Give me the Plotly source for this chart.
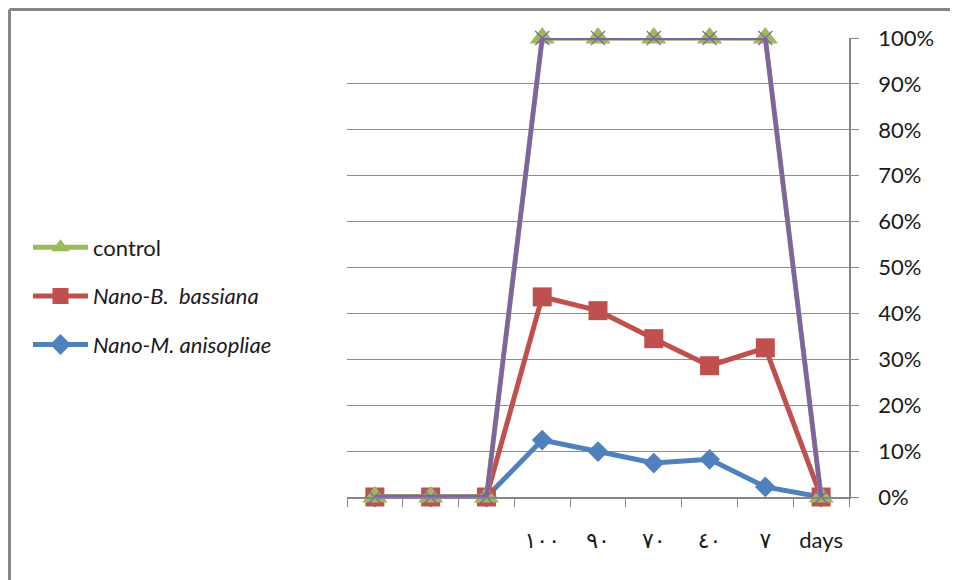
import plotly.graph_objects as go

categories = [" ", "  ", "   ", "١٠٠", "٩٠", "٧٠", "٤٠", "٧", "days"]
control = [0, 0, 0, 100, 100, 100, 100, 100, 0]
series4 = [0, 0, 0, 100, 100, 100, 100, 100, 0]
b_bassiana = [0, 0, 0, 43.6, 40.6, 34.5, 28.6, 32.5, 0]
m_anisopliae = [0, 0, 0, 12.4, 9.9, 7.4, 8.2, 2.2, 0]
y_ticks = [0, 10, 20, 30, 40, 50, 60, 70, 80, 90, 100]
y_labels = [f"{v}%" for v in y_ticks]

FONT = "Lato, 'Open Sans', 'DejaVu Sans', sans-serif"
GREEN = "#9BBB59"
RED = "#C0504D"
BLUE = "#4F81BD"
PURPLE = "#8064A2"

fig = go.Figure()
fig.add_trace(go.Scatter(
    x=categories, y=m_anisopliae, mode="lines+markers", cliponaxis=False,
    name="<i>Nano-M. anisopliae</i>", legendgroup="c", legendrank=3,
    line=dict(color=BLUE, width=5),
    marker=dict(symbol="diamond", size=16, color=BLUE),
))
fig.add_trace(go.Scatter(
    x=categories, y=b_bassiana, mode="lines+markers", cliponaxis=False,
    name="<i>Nano-B.\u00a0 bassiana</i>", legendgroup="b", legendrank=2,
    line=dict(color=RED, width=5),
    marker=dict(symbol="square", size=19, color=RED),
))
fig.add_trace(go.Scatter(
    x=categories, y=control, mode="lines+markers", cliponaxis=False,
    name="control", legendgroup="a", legendrank=1,
    line=dict(color=GREEN, width=5),
    marker=dict(symbol="triangle-up", size=22, color=GREEN),
))
fig.add_trace(go.Scatter(
    x=categories, y=series4, mode="lines+markers", cliponaxis=False,
    name="series4", showlegend=False,
    line=dict(color=PURPLE, width=4.5),
    marker=dict(symbol="x-thin", size=14, line=dict(color=PURPLE, width=1.2)),
))

# page has an 8px body margin; figure coordinates = page coordinates - 8
OFF = 8
W, H = 950, 572
L = 347 - OFF
T = 38 - OFF
R = W - (849 - OFF)
B = H - (497 - OFF)
pw = W - L - R
ph = H - T - B


def px_x(page_x):
    return (page_x - OFF - L) / pw


def px_y(page_y):
    return (H - B - (page_y - OFF)) / ph


fig.update_layout(
    width=W, height=H,
    margin=dict(l=L, r=R, t=T, b=B, autoexpand=False),
    paper_bgcolor="white", plot_bgcolor="white",
    font=dict(family=FONT, size=22, color="#1a1a1a"),
    showlegend=True,
    legend=dict(
        x=px_x(28), xanchor="left",
        y=px_y(296), yanchor="middle",
        traceorder="grouped", tracegroupgap=17,
        itemwidth=55, font=dict(size=22),
        bgcolor="rgba(0,0,0,0)",
    ),
    xaxis=dict(
        type="category", categoryorder="array", categoryarray=categories,
        range=[-0.5, len(categories) - 0.5],
        tickson="boundaries", ticks="outside", ticklen=8, tickcolor="#868686",
        showline=True, linecolor="#868686", linewidth=1.5,
        showgrid=False, zeroline=False,
        ticklabelstandoff=23, tickfont=dict(size=22),
    ),
    yaxis=dict(
        side="right", range=[0, 100], tickvals=y_ticks, ticktext=y_labels,
        ticks="outside", ticklen=8, tickcolor="#868686",
        showline=True, linecolor="#868686", linewidth=1.5,
        showgrid=True, gridcolor="#8c8c8c", gridwidth=1.2,
        zeroline=False, ticklabelstandoff=15, tickfont=dict(size=22),
    ),
    shapes=[
        dict(type="line", xref="paper", yref="paper",
             x0=px_x(9.5), x1=px_x(1100),
             y0=px_y(9.5), y1=px_y(9.5),
             line=dict(color="#868686", width=3)),
        dict(type="line", xref="paper", yref="paper",
             x0=px_x(9.5), x1=px_x(9.5),
             y0=px_y(9.5), y1=px_y(700),
             line=dict(color="#868686", width=3)),
    ],
)

fig.write_html("out.html")
